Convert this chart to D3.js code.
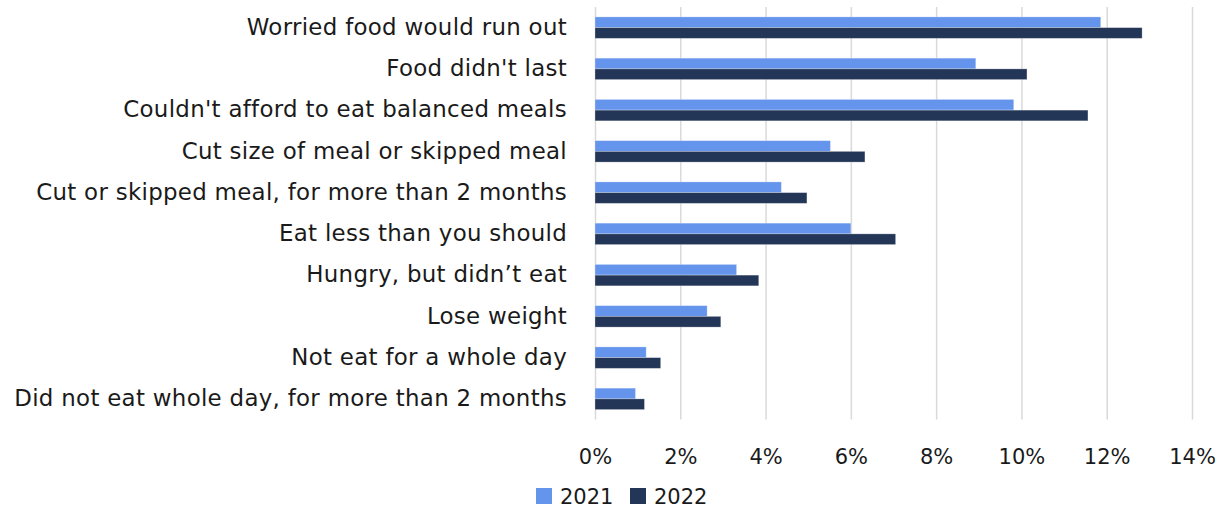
<!DOCTYPE html>
<html>
<head>
<meta charset="utf-8">
<script src="https://cdn.jsdelivr.net/npm/d3@7"></script>
<style>
  html, body { margin: 0; padding: 0; background: #fff; }
  svg { display: block; font-family: "DejaVu Sans", sans-serif; }
</style>
</head>
<body>
<svg id="chart" width="1220" height="508"></svg>
<script>
const categories = [
  "Worried food would run out",
  "Food didn't last",
  "Couldn't afford to eat balanced meals",
  "Cut size of meal or skipped meal",
  "Cut or skipped meal, for more than 2 months",
  "Eat less than you should",
  "Hungry, but didn\u2019t eat",
  "Lose weight",
  "Not eat for a whole day",
  "Did not eat whole day, for more than 2 months"
];
const seriesNames = ["2021", "2022"];
const values2021 = [0.1186, 0.0893, 0.0982, 0.0552, 0.0437, 0.0600, 0.0332, 0.0263, 0.0120, 0.0095];
const values2022 = [0.1283, 0.1013, 0.1156, 0.0633, 0.0497, 0.0705, 0.0384, 0.0295, 0.0154, 0.0116];
const xTicks = [0, 0.02, 0.04, 0.06, 0.08, 0.10, 0.12, 0.14];
const colors = ["#6594ED", "#233657"];

const svg = d3.select("#chart");
const mLeft = 595, mRight = 1192, mTop = 7, mBottom = 419.5;

const labelSpacing = 0.3;
// pick a font size so the longest label spans like the reference (~555px)
const probe = svg.append("text").style("font-size", "20px")
  .style("letter-spacing", labelSpacing + "px")
  .text(categories[categories.length - 1]);
const probeW = probe.node().getComputedTextLength();
probe.remove();
const fs = Math.max(18, Math.min(23, 20 * 555 / probeW));

const x = d3.scaleLinear().domain([0, 0.14]).range([mLeft, mRight]);
const y = d3.scaleBand().domain(categories).range([mTop, mBottom])
  .paddingInner(0.48).paddingOuter(0.24);
const ySub = d3.scaleBand().domain(seriesNames).range([0, y.bandwidth()]);

// gridlines + tick labels
const xAxis = d3.axisBottom(x).tickValues(xTicks)
  .tickFormat(d3.format(".0%"))
  .tickSizeInner(-(mBottom - mTop)).tickSizeOuter(0).tickPadding(30);
const gx = svg.append("g").attr("transform", `translate(0,${mBottom})`).call(xAxis);
gx.select(".domain").remove();
gx.selectAll(".tick line").attr("stroke", "#d9d9d9").attr("stroke-width", 1.5);
gx.selectAll(".tick text").attr("fill", "#1a1a1a").style("font-size", "21px")
  .attr("font-family", "DejaVu Sans");

// bars
const rows = categories.map((c, i) => ({ cat: c, vals: [values2021[i], values2022[i]] }));
const g = svg.append("g");
rows.forEach(r => {
  r.vals.forEach((v, j) => {
    g.append("rect")
      .attr("x", x(0))
      .attr("y", y(r.cat) + ySub(seriesNames[j]))
      .attr("width", x(v) - x(0))
      .attr("height", ySub.bandwidth())
      .attr("fill", colors[j])
      .attr("stroke", "rgba(255,255,255,0.35)")
      .attr("stroke-width", 0.8);
  });
});

// category axis
const yAxis = d3.axisLeft(y).tickSize(0).tickPadding(28);
const gy = svg.append("g").attr("transform", `translate(${mLeft},0)`).call(yAxis);
gy.select(".domain").remove();
gy.selectAll(".tick text").attr("fill", "#1a1a1a").style("font-size", fs + "px")
  .style("letter-spacing", labelSpacing + "px")
  .attr("font-family", "DejaVu Sans");

// legend
const legend = svg.append("g").attr("transform", "translate(536,488)");
const legX = [0, 94];
seriesNames.forEach((s, j) => {
  legend.append("rect").attr("x", legX[j]).attr("y", 0)
    .attr("width", 16).attr("height", 16).attr("fill", colors[j]);
  legend.append("text").attr("x", legX[j] + 24).attr("y", 16)
    .attr("fill", "#1a1a1a").style("font-size", "21px").text(s);
});
</script>
</body>
</html>
